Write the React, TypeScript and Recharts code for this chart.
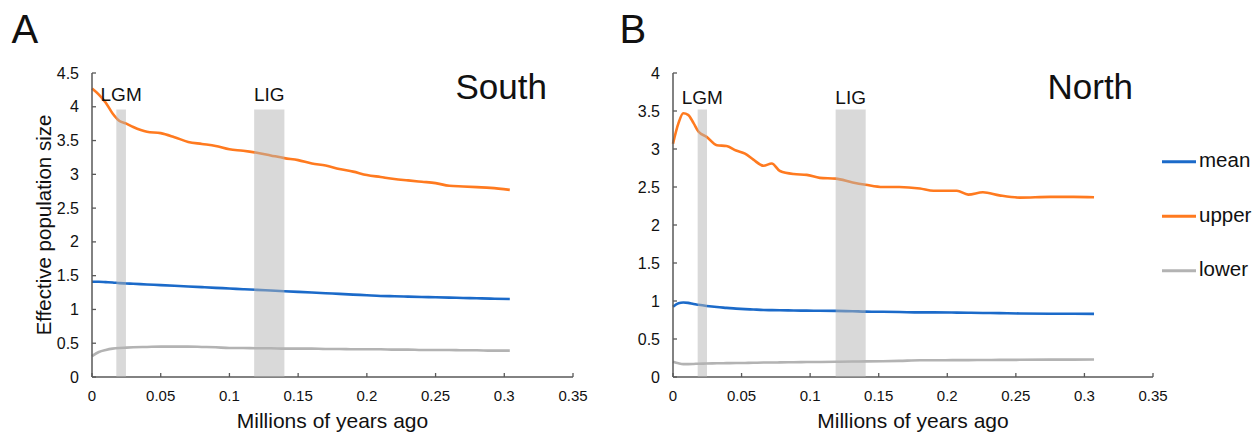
import React from 'react';
import { LineChart, Line, XAxis, YAxis, ReferenceArea, Legend } from 'recharts';

const FONT = '"Liberation Sans", Arial, Helvetica, sans-serif';

// Panel A (South)
const southX = [0, 0.005, 0.01, 0.015, 0.02, 0.025, 0.03, 0.04, 0.05, 0.06, 0.07, 0.08, 0.09, 0.1, 0.11, 0.12, 0.13, 0.14, 0.15, 0.16, 0.17, 0.18, 0.19, 0.2, 0.21, 0.22, 0.23, 0.24, 0.25, 0.26, 0.27, 0.28, 0.29, 0.304];
const southUpper = [4.27, 4.18, 4.06, 3.9, 3.79, 3.75, 3.7, 3.63, 3.61, 3.55, 3.48, 3.45, 3.42, 3.37, 3.35, 3.32, 3.28, 3.24, 3.21, 3.16, 3.13, 3.08, 3.04, 2.99, 2.96, 2.93, 2.91, 2.89, 2.87, 2.83, 2.82, 2.81, 2.8, 2.77];
const southMean = [1.41, 1.41, 1.405, 1.4, 1.39, 1.385, 1.38, 1.37, 1.36, 1.35, 1.34, 1.33, 1.32, 1.31, 1.3, 1.29, 1.28, 1.27, 1.26, 1.25, 1.24, 1.23, 1.22, 1.21, 1.2, 1.195, 1.19, 1.185, 1.18, 1.175, 1.17, 1.165, 1.16, 1.155];
const southLower = [0.31, 0.37, 0.4, 0.42, 0.43, 0.435, 0.44, 0.445, 0.45, 0.45, 0.45, 0.445, 0.44, 0.43, 0.43, 0.425, 0.425, 0.42, 0.42, 0.42, 0.415, 0.415, 0.41, 0.41, 0.41, 0.405, 0.405, 0.4, 0.4, 0.4, 0.395, 0.395, 0.39, 0.39];

// Panel B (North)
const northX = [0, 0.004, 0.0075, 0.011, 0.015, 0.0185, 0.0245, 0.032, 0.039, 0.046, 0.0525, 0.0586, 0.066, 0.072, 0.078, 0.088, 0.0975, 0.107, 0.1186, 0.131, 0.1405, 0.153, 0.165, 0.18, 0.19, 0.207, 0.2153, 0.226, 0.238, 0.253, 0.275, 0.292, 0.307];
const northUpper = [3.07, 3.34, 3.47, 3.45, 3.34, 3.23, 3.16, 3.05, 3.04, 2.98, 2.94, 2.86, 2.78, 2.81, 2.71, 2.67, 2.66, 2.62, 2.61, 2.56, 2.53, 2.5, 2.5, 2.48, 2.45, 2.45, 2.4, 2.43, 2.39, 2.36, 2.37, 2.37, 2.365];
const northMean = [0.925, 0.97, 0.98, 0.975, 0.96, 0.95, 0.935, 0.92, 0.91, 0.9, 0.893, 0.888, 0.882, 0.88, 0.878, 0.875, 0.873, 0.872, 0.87, 0.865, 0.86, 0.858, 0.855, 0.85, 0.85, 0.847, 0.845, 0.843, 0.84, 0.836, 0.833, 0.832, 0.83];
const northLower = [0.2, 0.18, 0.17, 0.17, 0.172, 0.175, 0.177, 0.18, 0.182, 0.184, 0.185, 0.187, 0.19, 0.19, 0.192, 0.195, 0.197, 0.198, 0.2, 0.203, 0.205, 0.208, 0.212, 0.22, 0.22, 0.222, 0.222, 0.224, 0.225, 0.226, 0.228, 0.229, 0.23];

const xTicks = [0, 0.05, 0.1, 0.15, 0.2, 0.25, 0.3, 0.35];
const southYTicks = [0, 0.5, 1, 1.5, 2, 2.5, 3, 3.5, 4, 4.5];
const northYTicks = [0, 0.5, 1, 1.5, 2, 2.5, 3, 3.5, 4];

const southShades = [
  { x1: 0.0177, x2: 0.0247, label: 'LGM' },
  { x1: 0.118, x2: 0.14, label: 'LIG' },
];
const northShades = [
  { x1: 0.018, x2: 0.0248, label: 'LGM' },
  { x1: 0.1186, x2: 0.1405, label: 'LIG' },
];
const southShadeTop = 3.96;
const northShadeTop = 3.52;

const seriesNames = ['mean', 'upper', 'lower'];
const COLORS: Record<string, string> = { mean: '#1B6AC9', upper: '#FF7A1F', lower: '#B3B3B3' };

const build = (xs: number[], mean: number[], upper: number[], lower: number[]) =>
  xs.map((x, i) => ({ x, mean: mean[i], upper: upper[i], lower: lower[i] }));

const southData = build(southX, southMean, southUpper, southLower);
const northData = build(northX, northMean, northUpper, northLower);

const AXIS = '#595959';

const YTick = (props: any) => {
  const { x, y, payload } = props;
  const ax = x + 13;
  return (
    <g>
      <line x1={ax} y1={y} x2={ax + 4} y2={y} stroke={AXIS} strokeWidth={1.3} />
      <text x={x} y={y} textAnchor="end" dominantBaseline="central" fontSize={16} fill="#111" fontFamily={FONT}>
        {String(payload.value)}
      </text>
    </g>
  );
};

const XTick = (props: any) => {
  const { x, y, payload } = props;
  const ay = y - 13;
  return (
    <g>
      <line x1={x} y1={ay} x2={x} y2={ay - 4} stroke={AXIS} strokeWidth={1.3} />
      <text x={x} y={y} dy="0.71em" textAnchor="middle" fontSize={15} fill="#111" fontFamily={FONT}>
        {String(payload.value)}
      </text>
    </g>
  );
};

const LegendContent = () => (
  <svg width={100} height={140} style={{ display: 'block' }}>
    {seriesNames.map((n, i) => {
      const yy = 21.7 + i * 54.5;
      return (
        <g key={n}>
          <line x1={2} y1={yy} x2={36} y2={yy} stroke={COLORS[n]} strokeWidth={3} />
          <text x={39} y={yy + 5.5} fontSize={20.5} fill="#111" fontFamily={FONT}>
            {n}
          </text>
        </g>
      );
    })}
  </svg>
);

type PanelProps = {
  data: any[];
  yMax: number;
  yTicks: number[];
  shades: { x1: number; x2: number; label: string }[];
  shadeTop: number;
  labelOffset: number;
  left: number;
  width: number;
  marginLeft: number;
  marginRight: number;
  yTitle?: boolean;
  legend?: boolean;
};

const Panel = (p: PanelProps) => (
  <div style={{ position: 'absolute', left: p.left, top: 0 }}>
    <LineChart
      width={p.width}
      height={432}
      data={p.data}
      margin={{ top: 73, right: p.marginRight, bottom: 25, left: p.marginLeft }}
      style={{ fontFamily: FONT }}
    >
      <XAxis
        dataKey="x"
        type="number"
        domain={[0, 0.35]}
        ticks={xTicks}
        tickSize={0}
        tickMargin={13}
        tickLine={false}
        tick={(t: any) => <XTick {...t} />}
        height={30}
        axisLine={{ stroke: AXIS, strokeWidth: 1.5 }}
        label={{
          content: (lp: any) => {
            const vb = lp.viewBox || {};
            return (
              <text x={vb.x + vb.width / 2} y={427.5} textAnchor="middle" fontSize={21} fill="#111" fontFamily={FONT}>
                Millions of years ago
              </text>
            );
          },
        }}
      />
      <YAxis
        type="number"
        domain={[0, p.yMax]}
        ticks={p.yTicks}
        width={40}
        tickSize={0}
        tickMargin={13}
        tickLine={false}
        tick={(t: any) => <YTick {...t} />}
        axisLine={{ stroke: AXIS, strokeWidth: 1.5 }}
        label={
          p.yTitle
            ? {
                content: () => (
                  <text
                    x={43}
                    y={225}
                    transform="rotate(-90 43 225)"
                    textAnchor="middle"
                    dominantBaseline="central"
                    fontSize={20.5}
                    fill="#111"
                    fontFamily={FONT}
                  >
                    Effective population size
                  </text>
                ),
              }
            : undefined
        }
      />
      {seriesNames.map((n) => (
        <Line
          key={n}
          dataKey={n}
          name={n}
          type="monotone"
          stroke={COLORS[n]}
          strokeWidth={2.6}
          dot={false}
          activeDot={false}
          isAnimationActive={false}
        />
      ))}
      {p.shades.map((s) => (
        <ReferenceArea
          key={s.label}
          x1={s.x1}
          x2={s.x2}
          y1={0}
          y2={p.shadeTop}
          fill="#B3B3B3"
          fillOpacity={0.5}
          stroke="none"
          zIndex={600}
          ifOverflow="visible"
          label={{ value: s.label, position: 'top', offset: p.labelOffset, fontSize: 19, fill: '#111', fontFamily: FONT }}
        />
      ))}
      {p.legend ? (
        <Legend
          layout="vertical"
          align="center"
          verticalAlign="middle"
          wrapperStyle={{ left: 560, top: 140, width: 100, height: 140 }}
          content={() => <LegendContent />}
        />
      ) : null}
    </LineChart>
  </div>
);

export default function App() {
  return (
    <div style={{ position: 'absolute', left: 0, top: 0, width: 1260, height: 432, background: '#fff', overflow: 'hidden', fontFamily: FONT }}>
      <Panel
        data={southData}
        yMax={4.5}
        yTicks={southYTicks}
        shades={southShades}
        shadeTop={southShadeTop}
        labelOffset={8}
        left={0}
        width={600}
        marginLeft={52}
        marginRight={27}
        yTitle
      />
      <Panel
        data={northData}
        yMax={4}
        yTicks={northYTicks}
        shades={northShades}
        shadeTop={northShadeTop}
        labelOffset={5.5}
        left={600}
        width={660}
        marginLeft={33}
        marginRight={107}
        legend
      />
      <svg width={1260} height={432} style={{ position: 'absolute', left: 0, top: 0, pointerEvents: 'none' }}>
        <text x={11.5} y={43.3} fontSize={40} fill="#111" fontFamily={FONT}>A</text>
        <text x={619.5} y={43.3} fontSize={40} fill="#111" fontFamily={FONT}>B</text>
        <text x={455.5} y={99.3} fontSize={35} fill="#111" fontFamily={FONT}>South</text>
        <text x={1047.5} y={99.3} fontSize={35} fill="#111" fontFamily={FONT}>North</text>
      </svg>
    </div>
  );
}
